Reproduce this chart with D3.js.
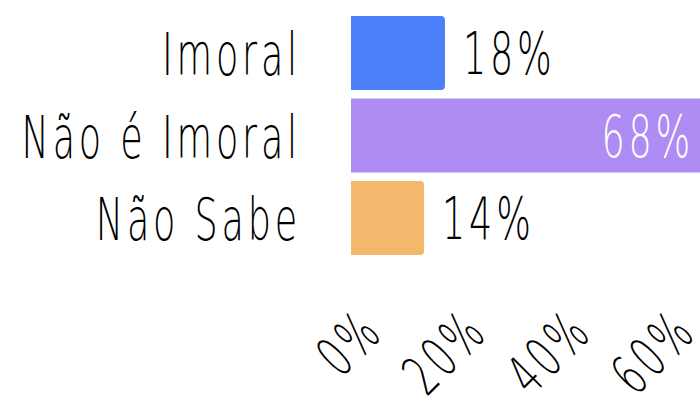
<!DOCTYPE html>
<html>
<head>
<meta charset="utf-8">
<script src="https://cdn.jsdelivr.net/npm/d3@7"></script>
<style>
  body { margin: 0; background: #fff; }
  text { font-family: "DejaVu Sans", sans-serif; font-weight: 200; }
</style>
</head>
<body>
<div id="chart"></div>
<script>
// data
var categories = ["Imoral", "Não é Imoral", "Não Sabe"]
var values = [0.18, 0.68, 0.14]
var colors = ["#4b80f8", "#ae8cf3", "#f3b86c"]
var tickValues = [0, 0.2, 0.4, 0.6]

var W = 700, H = 401
var fs = 58, sx = 0.63, ls = 6

var svg = d3.select("#chart").append("svg").attr("width", W).attr("height", H)

var x = d3.scaleLinear().domain([0, 1]).range([351, 873])
var y = d3.scaleBand().domain(categories).range([7.75, 263.3]).paddingInner(0.103).paddingOuter(0.1)

function barPath(d, i) {
  var x0 = x(0), x1 = x(values[i]), y0 = y(d), h = y.bandwidth(), r = 4
  return "M" + x0 + "," + y0 + "H" + (x1 - r) + "Q" + x1 + "," + y0 + " " + x1 + "," + (y0 + r) +
    "V" + (y0 + h - r) + "Q" + x1 + "," + (y0 + h) + " " + (x1 - r) + "," + (y0 + h) + "H" + x0 + "Z"
}

svg.append("g").selectAll("path").data(categories).enter().append("path")
  .attr("d", barPath)
  .attr("fill", function(d, i) { return colors[i] })

// category labels
svg.append("g").selectAll("g").data(categories).enter().append("g")
  .attr("transform", function(d) { return "translate(301," + (y(d) + y.bandwidth() / 2 + 22) + ") scale(" + sx + ",1)" })
  .append("text")
  .attr("text-anchor", "end")
  .style("font-size", fs + "px").style("letter-spacing", ls + "px")
  .attr("fill", "#000")
  .text(function(d) { return d })

// value labels
svg.append("g").selectAll("g").data(categories).enter().append("g")
  .attr("transform", function(d, i) {
    var v = values[i]
    var inside = v > 0.5
    var lx = inside ? Math.min(x(v), W) - 6 : x(v) + 18
    return "translate(" + lx + "," + (y(d) + y.bandwidth() / 2 + 21) + ") scale(" + sx + ",1)"
  })
  .append("text")
  .attr("text-anchor", function(d, i) { return values[i] > 0.5 ? "end" : "start" })
  .style("font-size", fs + "px").style("letter-spacing", ls + "px")
  .attr("fill", function(d, i) { return values[i] > 0.5 ? "#fff" : "#000" })
  .text(function(d, i) { return Math.round(values[i] * 100) + "%" })

// x axis
var axis = d3.axisBottom(x).tickValues(tickValues).tickFormat(d3.format(".0%")).tickSize(0)
var gx = svg.append("g").attr("transform", "translate(0,334)").call(axis)
gx.select(".domain").remove()
gx.selectAll(".tick text")
  .attr("y", 0).attr("dy", 0)
  .attr("text-anchor", "end")
  .attr("transform", "translate(34,0) rotate(-45) scale(" + sx + ",1)")
  .style("font-size", (fs - 2) + "px").style("letter-spacing", ls + "px")
  .style("font-family", "DejaVu Sans, sans-serif").style("font-weight", 200)
  .attr("fill", "#000")
</script>
</body>
</html>
